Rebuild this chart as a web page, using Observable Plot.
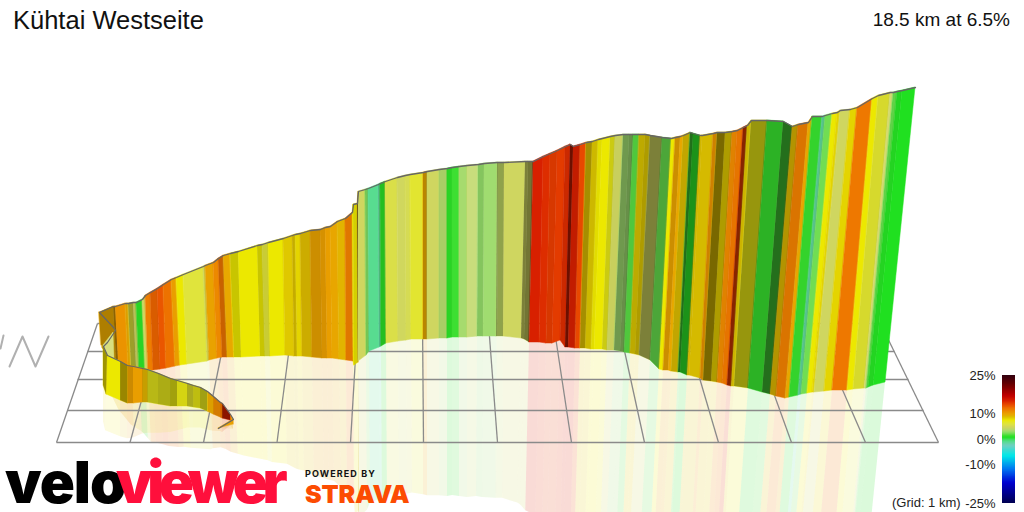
<!DOCTYPE html>
<html><head><meta charset="utf-8">
<script src="https://cdn.jsdelivr.net/npm/d3@7"></script>
<script src="https://cdn.jsdelivr.net/npm/@observablehq/plot@0.6"></script>
<style>
html,body{margin:0;padding:0;background:#fff;overflow:hidden;width:1024px;height:512px}
#stage{position:relative;width:1024px;height:512px;font-family:"Liberation Sans",Arial,sans-serif;color:#111}
#stage svg{position:absolute;display:block;background:transparent}
.t{position:absolute;white-space:nowrap;line-height:1}
</style></head><body><div id="stage"></div>
<script>
// Main wall: station positions (pixel-like scene coordinates)
const wallTopX=[99,113,115,125,128,133,136,142,145,150,
157,163,171,176,183,203,205,213,218,223,
230,238,257,262,268,283,292,295,300,310,
320,325,330,337,345,352,353,357,358,365,
368,378,380,385,397,405,410,423,427,439,
447,452,459,467,478,484,497,498,504,525,
528,533,543,550,557,565,570,573,580,586,
592,598,602,610,615,623,629,633,639,645,
650,662,671,675,680,683,690,693,700,702,
713,717,725,732,737,743,747,751,767,783,
792,798,808,812,822,825,832,837,840,850,
857,872,878,890,893,897,902,915];
const wallTopY=[312,306,306,303,303,302,302,299,295,292,
288,284,279,277,274,266,265,262,258,255,
253,251,245,244,242,238,235,234,233,230,
229,227,226,221,218,212,204,203,191,189,
188,184,183,181,177,175,174,172,171,169,
168,167,166,165,164,163,162,162,162,161,
161,161,156,153,150,146,144,146,144,142,
141,139,138,136,135,134,134,134,134,134,
135,137,138,137,136,135,132,133,135,135,
133,132,132,131,130,127,125,120,120,121,
126,124,122,116,116,115,113,112,110,109,
107,98,95,92,92,91,90,87];
const wallBaseX=[102,116,118,128,131,136,139,145,148,153,
160,166,175,180,187,207,209,217,222,227,
234,241,260,265,270,285,294,297,302,312,
322,327,332,339,346,353,354,358,358,366,
369,379,381,386,398,406,411,423,427,439,
447,452,459,467,477,483,496,497,503,521,
524,529,539,546,552,560,565,568,575,580,
585,591,594,602,607,614,620,624,630,635,
639,650,659,663,668,671,678,680,687,689,
700,703,711,717,722,727,731,734,748,762,
770,776,785,789,798,801,807,812,814,824,
832,847,853,864,866,868,873,885];
const wallBaseY=[348,360,361,366,367,368,369,371,371,370,
369,368,366,365,364,361,360,358,357,357,
357,357,356,356,356,355,356,356,356,357,
358,358,358,359,360,361,365,362,361,355,
351,347,346,343,341,340,339,339,339,338,
338,337,337,337,336,336,336,336,336,338,
339,342,342,343,343,340,347,347,348,348,
348,349,349,349,350,350,351,352,353,354,
355,360,369,370,370,371,372,372,375,375,
378,380,381,382,383,385,386,386,388,392,
394,396,398,397,395,394,393,392,392,391,
390,390,389,388,388,387,385,382];
// Gradient (%) of each band between two stations, and its shading (+ darker, - paler)
const wallGrade=[9.5,9.5,10.5,9.5,6,4.5,1,4.5,11.5,12.5,
13,12,10,7.5,6,5,9.8,11,12,9.5,
7.5,7.5,7.5,6,7.5,8.3,8.5,8,8.7,9.8,
10,10,9.6,9,11.5,8,7.5,10,4.5,2.5,
-1,-1.5,1,5.5,4.6,5,6.3,9.5,4.5,3.5,
1,1.3,3.2,4,2.8,3,3.5,4,4.5,4.5,
4.5,15,14.5,14,14,14.5,15,15,13.5,8.6,
8.3,7.6,7.5,7,4.5,3,3,1.8,8.3,8.3,
4.5,2,7.5,9.8,9.6,8.6,1.5,1,8.5,8.5,
10.5,8.6,8.3,11,11.8,14,8.4,7,1.2,1.5,
8.8,11.5,9.6,1.2,-1.5,2.2,7.5,8,4.5,8,
11.8,7.5,6.3,4.5,2,.9,.8];
const wallShade=[.25,.4,0,.05,.3,.1,.05,0,0,.08,
0,0,0,0,0,.05,0,0,.15,0,
.15,0,.15,.1,0,0,.1,0,.08,.12,
.08,0,0,0,.05,0,.1,.5,0,.1,
0,.15,.15,0,0,0,0,.2,0,.05,
.05,0,0,-.15,.1,0,.3,.25,0,.4,
.45,0,0,.05,0,.08,.5,.1,0,.25,
.08,.03,0,.12,.03,.3,.35,.1,.15,.22,
.4,.25,0,.12,0,.12,.5,.35,.05,.03,
.12,.45,.22,.05,.03,.4,.08,.35,.2,.5,
.2,.08,0,.05,.1,0,0,0,0,0,
0,0,.05,-.1,.05,.05,0];

// Front strand of the wall, from the start of the climb to the hairpin
const frontTopX=[218,233,230,222,220,213,207,200,193,187,177,170,158,147,142,133,127,120,107,103];
const frontTopY=[428,419,414,403,402,396,391,387,385,383,380,378,373,369,368,366,365,361,355,346];
const frontBaseX=[218,233,230,222,220,213,207,200,193,187,177,170,158,147,142,133,127,120,106,103];
const frontBaseY=[428,424,420,418,417,414,411,408,407,406,406,406,404,402,402,403,403,400,394,385];
const frontGrade=[9.8,10,15,12,11,9.5,6.8,7,6.5,7,7,6.8,6.8,9,10,10,8.5,7.5,8];
const frontShade=[0,0,.35,.1,.1,.05,.3,.18,.25,.08,.3,.25,.2,.12,0,.12,.3,0,.3];

// Hairpin pieces
const turnTopX=[99,113,115], turnTopY=[312,327,330], turnBaseX=[101,105,107], turnBaseY=[345,344,342];
const turnGrade=[9.5,9.5], turnShade=[.25,.25];
const innerTopX=[103,113], innerTopY=[345,332], innerBaseX=[105,114], innerBaseY=[355,358];
const innerGrade=[4.6], innerShade=[-.2];
const turnLineX=[103,107,115,113,99], turnLineY=[346,342,330,327,312];

// Floor grid
const floorY=[442,410,379,351,323];
const floorLeftX=[56,67,77,87,97];
const floorRightX=[938,923,908,894,880];
const columnFrontX=[56,129.5,203,276.5,350,423,497,571,644,718,791,865,938];
const columnBackX=[97,162,227,292,357,422,488,553,618,683,748,813,880];

// Stray mark at the left edge
const squiggleX=[0,3,9,22,35,48], squiggleY=[348,335,366,336,366,336], squiggleGroup=[0,0,1,1,1,1];

// Colour scale of the gradient
const gradeStops=[-25,-17,-12,-6.5,-2.5,-1,.8,3,4.5,6,7.5,8.5,9.5,11.8,13.5,15,17,21,25];
const gradeColors=["#000050","#0000d0","#0070f0","#00e8e8","#70d0c0","#58dc90","#20e020","#a0dc70","#cfd660","#e0e43c","#ece800","#dcc000","#e8a800","#ee7800","#e84800","#d82000","#c00000","#700000","#300010"];
const legendTicks=[25,10,0,-10,-25];
const legendGrades=d3.range(-25,25,0.5);

const colorScale={type:"linear",domain:gradeStops,range:gradeColors,interpolate:"rgb"};

function bands(tx,ty,bx,by,grade,shade){
  const rows=[];
  grade.forEach((g,i)=>{
    for(const j of [i,i+1]) rows.push({seg:i,grade:g,shade:shade[i],tx:tx[j],ty:ty[j],bx:bx[j],by:by[j],
      rx:bx[j]+(bx[j]-tx[j])*.93,ry:by[j]+(by[j]-ty[j])*.93});
  });
  return rows;
}
const wall=bands(wallTopX,wallTopY,wallBaseX,wallBaseY,wallGrade,wallShade);
const front=bands(frontTopX,frontTopY,frontBaseX,frontBaseY,frontGrade,frontShade);
const turn=bands(turnTopX,turnTopY,turnBaseX,turnBaseY,turnGrade,turnShade);
const inner=bands(innerTopX,innerTopY,innerBaseX,innerBaseY,innerGrade,innerShade);

const faces=rows=>[
  Plot.area(rows,{x1:"tx",y1:"ty",x2:"bx",y2:"by",z:"seg",fill:"grade",stroke:"grade",strokeWidth:.5}),
  Plot.area(rows.filter(d=>d.shade>0),{x1:"tx",y1:"ty",x2:"bx",y2:"by",z:"seg",fill:"#000",fillOpacity:d=>d.shade}),
  Plot.area(rows.filter(d=>d.shade<0),{x1:"tx",y1:"ty",x2:"bx",y2:"by",z:"seg",fill:"#fff",fillOpacity:d=>-d.shade})
];
const mirror=(rows,o)=>Plot.area(rows,{x1:"bx",y1:"by",x2:"rx",y2:"ry",z:"seg",fill:"grade",fillOpacity:o,clip:true});
const gridStyle={stroke:"#8a8a8a",strokeWidth:1.3};

const scene=Plot.plot({
  width:1024,height:512,margin:0,
  x:{domain:[0,1024],range:[0,1024],axis:null},
  y:{domain:[0,512],range:[0,512],axis:null},
  color:colorScale,
  marks:[
    mirror(wall,.16),mirror(front,.12),
    Plot.link(floorY,{x1:(d,i)=>floorLeftX[i],x2:(d,i)=>floorRightX[i],y1:d=>d,y2:d=>d,...gridStyle}),
    Plot.link(columnFrontX,{x1:d=>d,y1:()=>floorY[0],x2:(d,i)=>columnBackX[i],y2:()=>floorY[4],...gridStyle}),
    Plot.line(squiggleX,{x:d=>d,y:(d,i)=>squiggleY[i],z:(d,i)=>squiggleGroup[i],stroke:"#b0b0b0",strokeWidth:2}),
    ...faces(wall),
    Plot.line(wallTopX,{x:d=>d,y:(d,i)=>wallTopY[i],stroke:"#666",strokeWidth:1.3}),
    ...faces(turn),...faces(inner),
    ...faces(front),
    Plot.line(frontTopX,{x:d=>d,y:(d,i)=>frontTopY[i],stroke:"#666",strokeWidth:1.2}),
    Plot.line(turnLineX,{x:d=>d,y:(d,i)=>turnLineY[i],stroke:"#666",strokeWidth:1.2})
  ]
});
scene.style.left="0";scene.style.top="0";

const legend=Plot.plot({
  width:100,height:147,marginLeft:78,marginRight:9,marginTop:10,marginBottom:9,
  x:{domain:[0,1],axis:null},
  y:{domain:[-25,25]},
  color:colorScale,
  style:{fontFamily:"Liberation Sans",fontSize:"13px",color:"#222",background:"transparent",overflow:"visible"},
  marks:[
    Plot.rect(legendGrades,{x1:0,x2:1,y1:d=>d,y2:d=>Math.min(25,d+0.9),fill:d=>d+0.25,inset:0}),
    Plot.axisY(legendTicks,{tickSize:0,tickPadding:7,tickFormat:d=>d+"%",label:null,fontSize:13})
  ]
});
legend.style.left="924px";legend.style.top="365px";

const stage=document.getElementById("stage");
stage.append(scene,legend);
const add=(txt,css)=>{const e=document.createElement("div");e.className="t";e.textContent=txt;e.style.cssText=css;stage.append(e);};
add("Kühtai Westseite","left:13px;top:8px;font-size:25.5px;");
add("18.5 km at 6.5%","right:14px;top:10px;font-size:19px;");
add("(Grid: 1 km)","left:892px;top:496px;font-size:13px;color:#222");
add("velo","left:5px;top:457px;font:900 58px/50px Inter,sans-serif;letter-spacing:-1px;color:#000");
add("viewer","left:116px;top:457px;font:900 58px/50px Inter,sans-serif;letter-spacing:-5.5px;color:#ff0f3c");
add("POWERED BY","left:305px;top:469px;font:700 9px/1 Inter,sans-serif;letter-spacing:1.1px;color:#111");
add("STRAVA","left:305px;top:482px;font:900 25px/1 Inter,sans-serif;letter-spacing:-.2px;color:#fc4c02");
</script></body></html>
